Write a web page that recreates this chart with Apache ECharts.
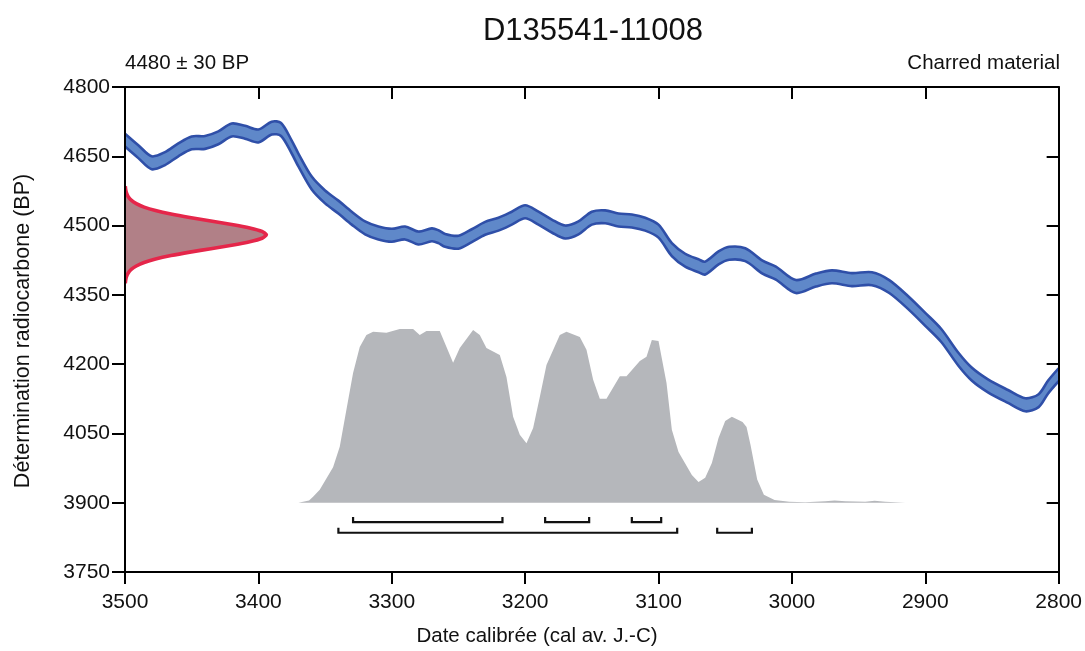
<!DOCTYPE html>
<html><head><meta charset="utf-8">
<script src="https://cdn.jsdelivr.net/npm/echarts@6/dist/echarts.min.js"></script>
<style>html,body{margin:0;padding:0;background:#fff}#c{width:1085px;height:651px}</style>
</head><body><div id="c"></div>
<script>
// ---------- DATA ----------
const titleText = 'D135541-11008';
const dateLabel = '4480 ± 30 BP';
const materialLabel = 'Charred material';
const xAxisTitle = 'Date calibrée (cal av. J.-C)';
const yAxisTitle = 'Détermination radiocarbone (BP)';

const xMin = 2800, xMax = 3500, xStep = 100;
const yMin = 3750, yMax = 4800, yStep = 150;

// calibration curve (cal BC, BP centre) and 1-sigma half width (BP)
const curveYears = [3500,3490,3480,3470,3460,3450,3440,3430,3420,3410,3400,3390,3383,3375,3370,3360,3350,3340,3330,3320,3310,3300,3290,3280,3270,3265,3260,3250,3240,3230,3220,3210,3200,3190,3180,3170,3160,3150,3140,3130,3120,3110,3100,3090,3080,3070,3065,3055,3047,3035,3022,3012,2997,2982,2970,2955,2940,2927,2912,2900,2888,2875,2865,2853,2838,2825,2815,2808,2800];
const curveBP    = [4685,4660,4636,4645,4664,4679,4680,4690,4707,4702,4694,4711,4708,4670,4642,4592,4562,4540,4516,4495,4484,4479,4484,4473,4480,4476,4468,4464,4478,4494,4503,4516,4530,4516,4499,4486,4495,4516,4519,4512,4510,4503,4488,4448,4425,4413,4408,4430,4440,4437,4410,4397,4368,4382,4389,4383,4385,4368,4331,4297,4262,4210,4178,4153,4130,4112,4121,4150,4177];
const curveHalfWidth = 14;

// calibrated probability distribution, drawn above the 3900 BP baseline
const probYears = [3370,3362,3359,3354,3344,3339,3334,3329,3324,3319,3314,3304,3294,3284,3279,3274,3264,3254,3249,3239,3234,3229,3219,3214,3209,3204,3199,3194,3189,3184,3174,3169,3159,3154,3149,3144,3139,3129,3124,3114,3109,3105,3100,3094,3090,3085,3075,3070,3065,3060,3055,3050,3045,3037,3034,3031,3026,3021,3013,3002,2990,2975,2968,2960,2945,2938,2930,2915];
const probBP    = [3900,3905,3913,3928,3977,4021,4101,4181,4237,4263,4270,4268,4276,4276,4263,4272,4272,4203,4235,4274,4263,4235,4220,4172,4086,4047,4029,4062,4129,4198,4263,4270,4259,4231,4166,4125,4125,4174,4174,4207,4216,4252,4250,4159,4058,4010,3960,3945,3954,3986,4040,4077,4086,4075,4064,4025,3950,3917,3906,3902,3901,3903,3905,3903,3902,3904,3902,3900];
const probBase = 3900;

// radiocarbon measurement distribution (BP, relative density)
const measBP      = [4375,4382.5,4390,4397.5,4405,4412.5,4420,4427.5,4435,4442.5,4450,4457.5,4465,4472.5,4480,4487.5,4495,4502.5,4510,4517.5,4525,4532.5,4540,4547.5,4555,4562.5,4570,4577.5,4585];
const measDensity = [0.002,0.005,0.011,0.023,0.044,0.080,0.135,0.216,0.325,0.458,0.607,0.755,0.882,0.969,1,0.969,0.882,0.755,0.607,0.458,0.325,0.216,0.135,0.080,0.044,0.023,0.011,0.005,0.002];
const measPeakYears = 106;

// calibrated ranges: [from, to] per row, and the row level in BP
const ranges1Sigma = [[3329,3217],[3185,3152],[3120,3098]];
const ranges2Sigma = [[3340,3086],[3056,3030]];
const row1Level = 3858, row2Level = 3835;

// ---------- CHART ----------
const FONT = '"Liberation Sans", Arial, Helvetica, sans-serif';
const chart = echarts.init(document.getElementById('c'), null, {renderer: 'canvas'});

function clipRect(params) {
  const cs = params.coordSys;
  return {type: 'rect', shape: {x: cs.x, y: cs.y, width: cs.width, height: cs.height}};
}

const rangeData = ranges1Sigma.map(r => [r[0], r[1], row1Level])
  .concat(ranges2Sigma.map(r => [r[0], r[1], row2Level]));

const plain = v => String(v);
const axisLine = {show: true, lineStyle: {color: '#000', width: 2}};
const option = {
  animation: false,
  backgroundColor: '#fff',
  grid: {left: 125, right: 25, top: 87, bottom: 79, containLabel: false},
  xAxis: [{
    type: 'value', min: xMin, max: xMax, interval: xStep, inverse: true, position: 'bottom', z: 10,
    axisLine: axisLine,
    axisTick: {show: true, inside: false, length: 12, lineStyle: {color: '#000', width: 2}},
    axisLabel: {color: '#111', fontSize: 21, fontFamily: FONT, margin: 20, formatter: plain},
    splitLine: {show: false}
  }, {
    type: 'value', min: xMin, max: xMax, interval: xStep, inverse: true, position: 'top', z: 10,
    axisLine: axisLine,
    axisTick: {show: true, inside: true, length: 12, lineStyle: {color: '#000', width: 2}},
    axisLabel: {show: false}, splitLine: {show: false}
  }],
  yAxis: [{
    type: 'value', min: yMin, max: yMax, interval: yStep, position: 'left', z: 10,
    axisLine: axisLine,
    axisTick: {show: true, inside: false, length: 13, lineStyle: {color: '#000', width: 2}},
    axisLabel: {color: '#111', fontSize: 21, fontFamily: FONT, margin: 15, formatter: plain},
    splitLine: {show: false}
  }, {
    type: 'value', min: yMin, max: yMax, interval: yStep, position: 'right', z: 10,
    axisLine: axisLine,
    axisTick: {show: true, inside: true, length: 12, lineStyle: {color: '#000', width: 2}},
    axisLabel: {show: false}, splitLine: {show: false}
  }],
  graphic: [
    {type: 'text', x: 593, y: 31, style: {text: titleText, font: '31px ' + FONT, fill: '#111', align: 'center', verticalAlign: 'middle', textAlign: 'center', textVerticalAlign: 'middle'}},
    {type: 'text', x: 125, y: 63, style: {text: dateLabel, font: '20.5px ' + FONT, fill: '#111', align: 'left', verticalAlign: 'middle', textAlign: 'left', textVerticalAlign: 'middle'}},
    {type: 'text', x: 1060, y: 63, style: {text: materialLabel, font: '20.5px ' + FONT, fill: '#111', align: 'right', verticalAlign: 'middle', textAlign: 'right', textVerticalAlign: 'middle'}},
    {type: 'text', x: 537, y: 636, style: {text: xAxisTitle, font: '20.5px ' + FONT, fill: '#111', align: 'center', verticalAlign: 'middle', textAlign: 'center', textVerticalAlign: 'middle'}},
    {type: 'text', x: 23, y: 331, rotation: Math.PI / 2, style: {text: yAxisTitle, font: '21.5px ' + FONT, fill: '#111', align: 'center', verticalAlign: 'middle', textAlign: 'center', textVerticalAlign: 'middle'}}
  ],
  series: [
    { // calibrated probability (grey)
      type: 'custom', coordinateSystem: 'cartesian2d', z: 2, silent: true,
      data: [[probYears[0], probBase]],
      renderItem: function (params, api) {
        const pts = [api.coord([probYears[0], probBase])];
        for (let i = 0; i < probYears.length; i++) pts.push(api.coord([probYears[i], probBP[i]]));
        pts.push(api.coord([probYears[probYears.length - 1], probBase]));
        return {type: 'polygon', shape: {points: pts}, style: {fill: '#b5b7bb', stroke: null}};
      }
    },
    { // calibration curve band (blue)
      type: 'custom', coordinateSystem: 'cartesian2d', z: 3, silent: true, clip: true,
      data: [[curveYears[0], curveBP[0]]],
      renderItem: function (params, api) {
        const upper = [], lower = [];
        for (let i = 0; i < curveYears.length; i++) {
          upper.push(api.coord([curveYears[i], curveBP[i] + curveHalfWidth]));
          lower.push(api.coord([curveYears[i], curveBP[i] - curveHalfWidth]));
        }
        const poly = upper.concat(lower.slice().reverse());
        return {type: 'group', clipPath: clipRect(params), children: [
          {type: 'polygon', shape: {points: poly, smooth: 0.3}, style: {fill: '#5f88c9', stroke: null}},
          {type: 'polyline', shape: {points: upper, smooth: 0.3}, style: {fill: null, stroke: '#2f4fa8', lineWidth: 2.6}},
          {type: 'polyline', shape: {points: lower, smooth: 0.3}, style: {fill: null, stroke: '#2f4fa8', lineWidth: 2.6}}
        ]};
      }
    },
    { // measurement distribution (red)
      type: 'custom', coordinateSystem: 'cartesian2d', z: 4, silent: true,
      data: [[xMax, measBP[0]]],
      renderItem: function (params, api) {
        const pts = [];
        for (let i = 0; i < measBP.length; i++) pts.push(api.coord([xMax - measPeakYears * measDensity[i], measBP[i]]));
        return {type: 'group', clipPath: clipRect(params), children: [
          {type: 'polygon', shape: {points: pts, smooth: 0.2}, style: {fill: '#b18087', stroke: null}},
          {type: 'polyline', shape: {points: pts, smooth: 0.2}, style: {fill: null, stroke: '#e5264a', lineWidth: 3.6}}
        ]};
      }
    },
    { // calibrated ranges (brackets)
      type: 'custom', coordinateSystem: 'cartesian2d', z: 5, silent: true,
      encode: {x: [0, 1], y: 2},
      data: rangeData,
      renderItem: function (params, api) {
        const a = api.coord([api.value(0), api.value(2)]);
        const b = api.coord([api.value(1), api.value(2)]);
        const h = 5;
        return {type: 'polyline', shape: {points: [[a[0], a[1] - h], a, b, [b[0], b[1] - h]]},
          style: {fill: null, stroke: '#111', lineWidth: 2.2}};
      }
    }
  ]
};
chart.setOption(option);
</script>
</body></html>
